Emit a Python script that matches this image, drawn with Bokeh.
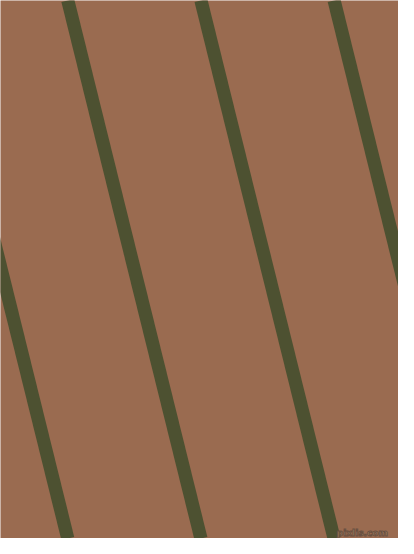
from bokeh.plotting import figure
from bokeh.models import Range1d
from bokeh.embed import file_html
from bokeh.resources import INLINE
from bokeh.core.properties import value
import numpy as np

# Pattern data (in reference-canvas units): stripe centre x-positions at the top edge,
# and their horizontal drift per unit of height
stripe_top_x = [-68.5, 70.0, 208.5, 347.0, 485.5]
stripe_drift = 0.25
canvas_w = 414
canvas_h = 554
background = "#9A6B50"
stripe_color = "#4D5131"
watermark = ["pixlis.com"]

x_top = np.array(stripe_top_x)
x_bottom = x_top + stripe_drift * canvas_h

p = figure(width=398, height=538, output_backend="svg", toolbar_location=None,
           x_range=Range1d(0, canvas_w), y_range=Range1d(canvas_h, 0),
           min_border=0, min_border_left=0, min_border_right=0,
           min_border_top=0, min_border_bottom=0)
p.axis.visible = False
p.grid.visible = False
p.outline_line_color = None
p.background_fill_color = background
p.border_fill_color = background

p.segment(x0=x_top, y0=[0] * len(x_top), x1=x_bottom, y1=[canvas_h] * len(x_top),
          line_color=stripe_color, line_width=13.2, line_cap="butt")

p.text(x=[403], y=[548], text=watermark, text_font=value("DejaVu Sans"),
       text_font_size="9px", text_color="#B09070", text_align="right",
       text_baseline="alphabetic", text_font_style="bold",
       text_outline_color="#6A5040")

open("out.html", "w").write(file_html(p, INLINE))
